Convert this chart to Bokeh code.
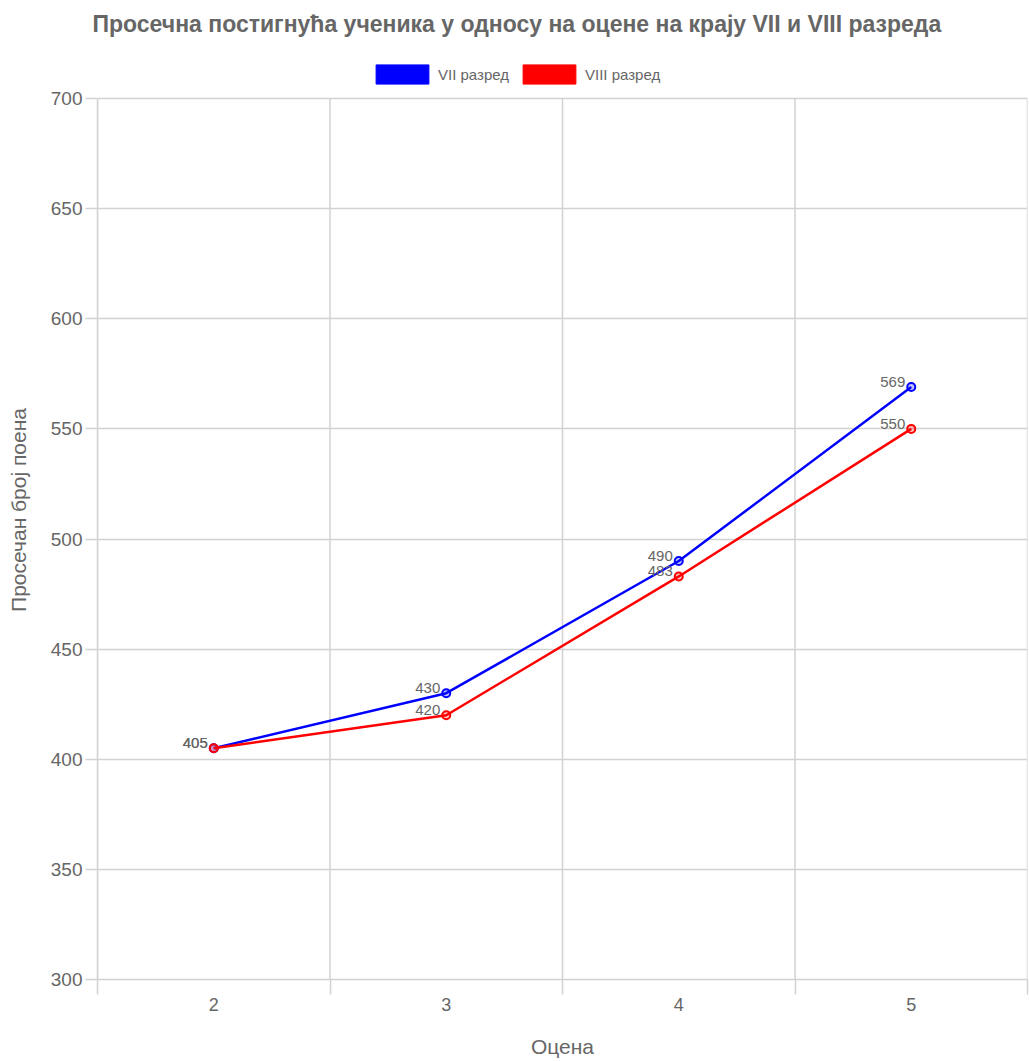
from bokeh.plotting import figure
from bokeh.models import FixedTicker, Range1d, ColumnDataSource, Legend, LegendItem
from bokeh.core.properties import value
from bokeh.embed import file_html
from bokeh.resources import INLINE

# ---- data ----
grades = [2, 3, 4, 5]
grade_bounds = [1.5, 2.5, 3.5, 4.5, 5.5]
vii_scores = [405, 430, 490, 569]
viii_scores = [405, 420, 483, 550]
y_ticks = [300, 350, 400, 450, 500, 550, 600, 650, 700]
series_names = ["VII разред", "VIII разред"]
series_colors = ["#0000ff", "#ff0000"]
title_text = "Просечна постигнућа ученика у односу на оцене на крају VII и VIII разреда"
x_title = "Оцена"
y_title = "Просечан број поена"

FONT = "Liberation Sans"
GRAY = "#666666"
GRID = "#d2d2d2"

# layout (pixels): frame from y=40 to y=979, value 700 sits at y=98
FRAME_TOP, AXIS_TOP, FRAME_BOTTOM = 40, 98, 979
y_lo, y_hi = y_ticks[0], y_ticks[-1]
y_end = y_hi + (AXIS_TOP - FRAME_TOP) * (y_hi - y_lo) / (FRAME_BOTTOM - AXIS_TOP)

p = figure(width=1029, height=1061,
           x_range=Range1d(grade_bounds[0], grade_bounds[-1]),
           y_range=Range1d(y_lo, y_end),
           output_backend="svg", toolbar_location=None,
           min_border_left=97, min_border_right=2,
           min_border_top=FRAME_TOP, min_border_bottom=1061 - FRAME_BOTTOM)
p.outline_line_color = None
p.background_fill_color = "white"

# title
p.title.text = title_text
p.title.text_font = FONT
p.title.text_font_size = "23px"
p.title.text_font_style = "bold"
p.title.text_color = GRAY
p.title.align = "left"
p.title.offset = -5
p.title.standoff = 8

# x axis
xt = FixedTicker(ticks=grades, minor_ticks=grade_bounds)
p.xaxis.ticker = xt
p.xaxis.major_tick_line_color = None
p.xaxis.major_tick_out = 15
p.xaxis.major_tick_in = 0
p.xaxis.minor_tick_out = 15
p.xaxis.minor_tick_in = 0
p.xaxis.minor_tick_line_color = GRID
p.xaxis.minor_tick_line_width = 1.5
p.xaxis.axis_line_color = GRID
p.xaxis.axis_line_width = 1.5
p.xaxis.major_label_text_font = FONT
p.xaxis.major_label_text_font_size = "18px"
p.xaxis.major_label_text_color = GRAY
p.xaxis.major_label_standoff = 3
p.xaxis.axis_label = x_title
p.xaxis.axis_label_text_font = FONT
p.xaxis.axis_label_text_font_size = "21px"
p.xaxis.axis_label_text_font_style = "normal"
p.xaxis.axis_label_text_color = GRAY
p.xaxis.axis_label_standoff = 21

# y axis
p.yaxis.ticker = FixedTicker(ticks=y_ticks)
p.yaxis.bounds = (y_lo, y_hi)
p.yaxis.major_tick_out = 12
p.yaxis.major_tick_in = 0
p.yaxis.minor_tick_line_color = None
p.yaxis.major_tick_line_color = GRID
p.yaxis.major_tick_line_width = 1.5
p.yaxis.axis_line_color = GRID
p.yaxis.axis_line_width = 1.5
p.yaxis.major_label_text_font = FONT
p.yaxis.major_label_text_font_size = "19px"
p.yaxis.major_label_text_color = GRAY
p.yaxis.major_label_standoff = 3
p.yaxis.axis_label = y_title
p.yaxis.axis_label_text_font = FONT
p.yaxis.axis_label_text_font_size = "21px"
p.yaxis.axis_label_text_font_style = "normal"
p.yaxis.axis_label_text_color = GRAY
p.yaxis.axis_label_standoff = 18

# grids
p.xgrid.grid_line_color = None
p.ygrid.grid_line_color = GRID
p.ygrid.grid_line_width = 1.5
# vertical category separators, limited to the value range
p.segment(x0=grade_bounds, y0=[y_lo] * len(grade_bounds),
          x1=grade_bounds, y1=[y_hi] * len(grade_bounds),
          line_color=GRID, line_width=1.5)

# series
legend_items = []
for name, vals, col in zip(series_names, [vii_scores, viii_scores], series_colors):
    src = ColumnDataSource(dict(x=grades, y=vals, label=[str(v) for v in vals]))
    p.line("x", "y", source=src, line_color=col, line_width=2.5)
    p.scatter("x", "y", source=src, size=8, line_color=col, line_width=2,
              fill_color=col, fill_alpha=0.25)
    p.text("x", "y", text="label", source=src, text_align="right",
           text_baseline="middle", x_offset=-6, y_offset=-5,
           text_font=value(FONT), text_font_size="15px", text_color=GRAY)
    # legend swatch renderer (kept outside the visible range)
    box = p.quad(left=[-10], right=[-9], top=[-10], bottom=[-11],
                 fill_color=col, line_color=col)
    legend_items.append(LegendItem(label=name, renderers=[box]))

legend = Legend(items=legend_items, orientation="horizontal", location=(272, 893),
                glyph_width=66, glyph_height=24, label_text_font=FONT,
                label_text_font_size="15px", label_text_color=GRAY,
                padding=0, margin=0, spacing=7, label_standoff=3,
                border_line_color=None, background_fill_alpha=0)
p.add_layout(legend, "center")

open("out.html", "w").write(file_html(p, INLINE))
